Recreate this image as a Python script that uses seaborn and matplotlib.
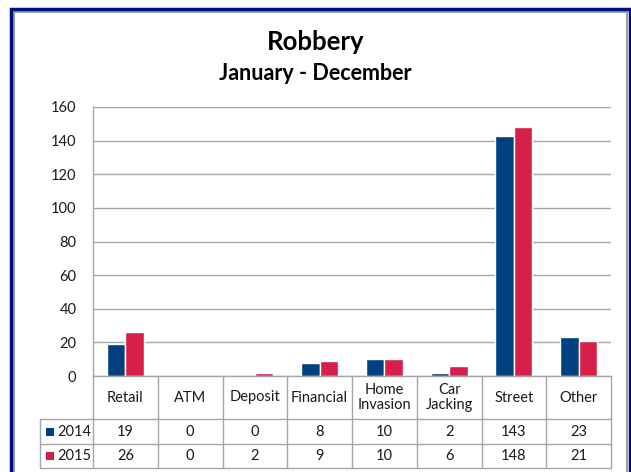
import numpy as np
import pandas as pd
import matplotlib
matplotlib.use("Agg")
import matplotlib.pyplot as plt
import matplotlib.transforms as mtransforms
from matplotlib.patches import Rectangle
from matplotlib.lines import Line2D
import seaborn as sns

# ==================== DATA ====================
categories = ["Retail", "ATM", "Deposit", "Financial", "Home\nInvasion",
              "Car\nJacking", "Street", "Other"]
years = ["2014", "2015"]
values_2014 = [19, 0, 0, 8, 10, 2, 143, 23]
values_2015 = [26, 0, 2, 9, 10, 6, 148, 21]
colors = ["#00407F", "#D6204A"]

df = pd.DataFrame({
    "category": categories * 2,
    "year": [years[0]] * len(categories) + [years[1]] * len(categories),
    "count": values_2014 + values_2015,
})

# ==================== STYLE ====================
sns.set_theme(style="white")
plt.rcParams["font.family"] = ["Lato", "DejaVu Sans"]
grid_col = "#A6A6A6"
txt_col = "#1A1A1A"

W, H = 631, 472
fig = plt.figure(figsize=(W / 100, H / 100), dpi=100)

def fx(px):
    return px / W

def fy(py):
    return 1 - py / H

# plot area in pixels
x0, x1, ytop, ybot = 93, 611, 107, 376
ax = fig.add_axes([fx(x0), fy(ybot), fx(x1) - fx(x0), fy(ytop) - fy(ybot)])

sns.barplot(data=df, x="category", y="count", hue="year", palette=colors,
            order=categories, hue_order=years, width=0.57, saturation=1,
            legend=False, ax=ax)

ax.set_ylim(0, 160)
ax.set_xlim(-0.5, len(categories) - 0.5)
ax.set_yticks(range(0, 161, 20))
ax.yaxis.grid(True, color=grid_col, linewidth=1)
ax.set_axisbelow(True)
ax.tick_params(axis="y", labelsize=10.5, colors=txt_col, length=0, pad=12)
ax.set_xticks([])
ax.set_xlabel("")
ax.set_ylabel("")
for s in ["top", "right"]:
    ax.spines[s].set_visible(False)
ax.spines["left"].set_color(grid_col)
ax.spines["bottom"].set_color(grid_col)
ax.spines["left"].set_linewidth(1)
ax.spines["bottom"].set_linewidth(1)

# ==================== DATA TABLE ====================
trans = mtransforms.blended_transform_factory(ax.transData, ax.transAxes)
ph = ybot - ytop

def ay(py):
    return -(py - ybot) / ph

row_lines = [419, 444, 468]
n = len(categories)
for i in range(n + 1):
    ax.add_line(Line2D([i - 0.5, i - 0.5], [0, ay(row_lines[-1])], transform=trans,
                       color=grid_col, lw=1, clip_on=False))
for py in row_lines:
    fig.add_artist(Line2D([fx(40), fx(x1)], [fy(py), fy(py)], color=grid_col, lw=1))
fig.add_artist(Line2D([fx(40), fx(40)], [fy(row_lines[0]), fy(row_lines[-1])],
                      color=grid_col, lw=1))

for i, cat in enumerate(categories):
    ax.text(i, ay((ybot + row_lines[0]) / 2), cat, transform=trans, ha="center",
            va="center", fontsize=10.5, color=txt_col, linespacing=1.1)
    ax.text(i, ay((row_lines[0] + row_lines[1]) / 2), str(values_2014[i]),
            transform=trans, ha="center", va="center", fontsize=10.5, color=txt_col)
    ax.text(i, ay((row_lines[1] + row_lines[2]) / 2), str(values_2015[i]),
            transform=trans, ha="center", va="center", fontsize=10.5, color=txt_col)

for k, (yr, c) in enumerate(zip(years, colors)):
    ymid = (row_lines[k] + row_lines[k + 1]) / 2
    fig.add_artist(Rectangle((fx(46), fy(ymid + 4)), fx(8), fy(0) - fy(8),
                             facecolor=c, edgecolor="none"))
    fig.text(fx(57), fy(ymid), yr, ha="left", va="center", fontsize=10.5, color=txt_col)

# ==================== TITLES & FRAME ====================
fig.text(0.5, fy(42), "Robbery", ha="center", va="center", fontsize=18.5,
         fontweight="bold", color="black")
fig.text(0.5, fy(74), "January - December", ha="center", va="center", fontsize=15.5,
         fontweight="bold", color="black")

fig.add_artist(Rectangle((fx(13.5), fy(490)), fx(613), fy(12) - fy(490),
                         facecolor="none", edgecolor="#A0A0A0", lw=1.5))
fig.add_artist(Rectangle((fx(11), fy(490)), fx(618.5), fy(9.5) - fy(490),
                         facecolor="none", edgecolor="#00107F", lw=2.5))

fig.savefig("out.png", dpi=100)
